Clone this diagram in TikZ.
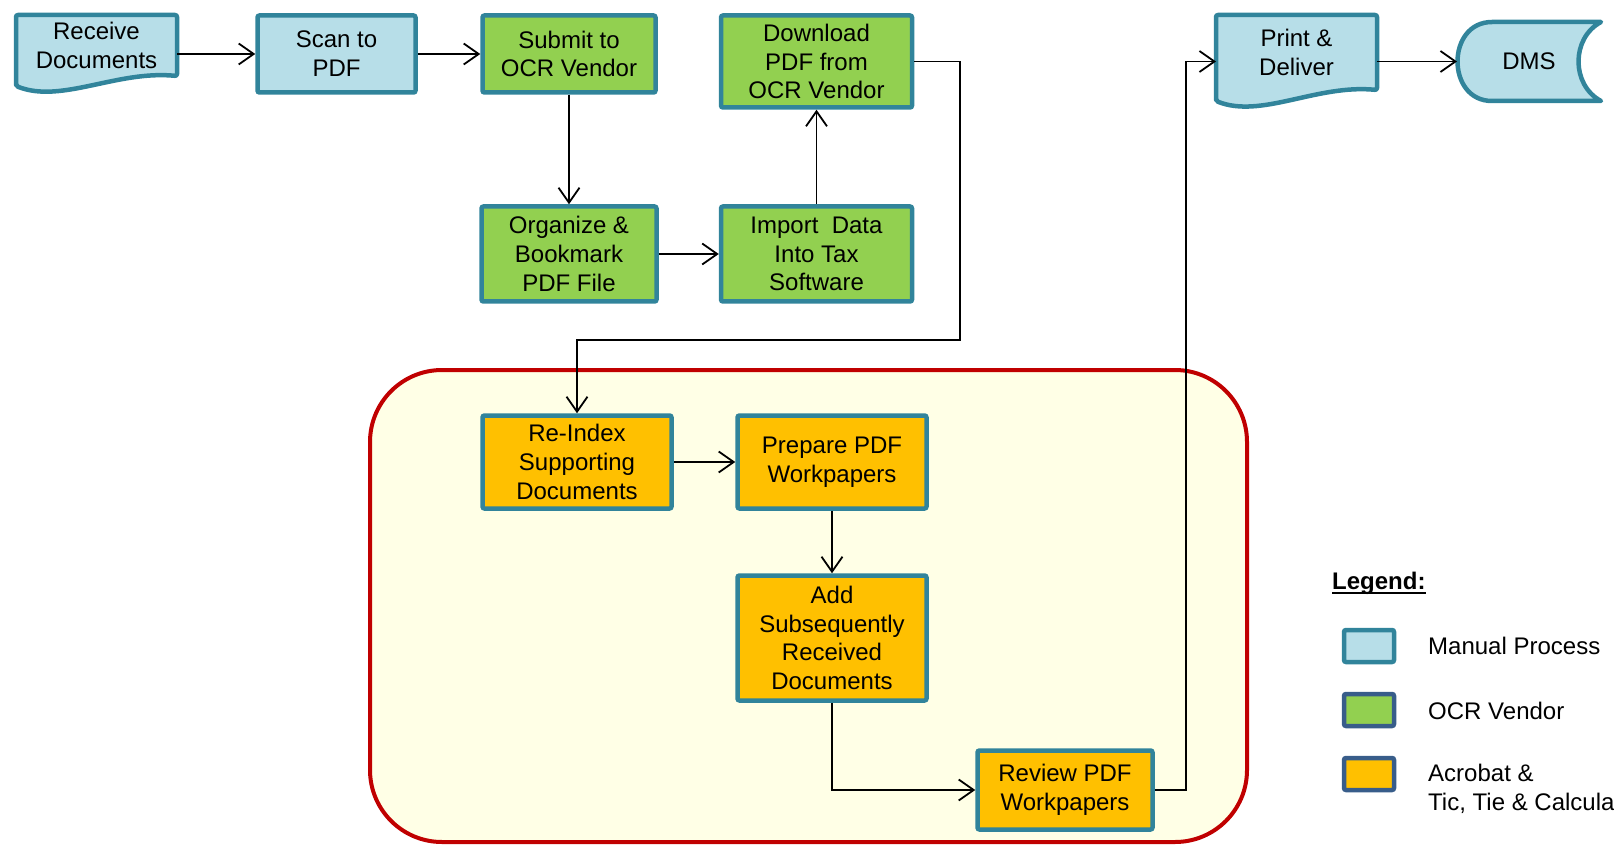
\documentclass[tikz,border=0pt]{standalone}
\usepackage{fontspec}
\setmainfont{Liberation Sans}
\usetikzlibrary{arrows.meta,calc,backgrounds}
\definecolor{manualfill}{HTML}{B7DEE8}
\definecolor{manualline}{HTML}{31849B}
\definecolor{ocrfill}{HTML}{92D050}
\definecolor{acrofill}{HTML}{FFC000}
\definecolor{legline}{HTML}{385D8A}
\definecolor{grpfill}{HTML}{FFFFE6}
\definecolor{grpline}{HTML}{C00000}
\begin{document}
\begin{tikzpicture}[x=1pt,y=-1pt,
	every node/.style={font=\fontsize{24}{28.8}\selectfont,align=center,inner sep=0pt},
	box/.style={draw=manualline,line width=4.5pt,rounded corners=2pt},
	manual/.style={box,fill=manualfill},
	ocr/.style={box,fill=ocrfill},
	acro/.style={box,fill=acrofill},
	doc/.style={line width=4.5pt,outer sep=0pt,minimum width=161pt},
	docline/.style={draw=manualline,fill=manualfill,line width=4.5pt,line join=round,line cap=round},
	arr/.style={line width=1.8pt,-{Straight Barb[length=15pt,width=21pt]}},
	legbox/.style={line width=4.5pt,rounded corners=2pt,minimum width=50pt,minimum height=32pt}]
	\useasboundingbox (0,0) rectangle (1614,850);
	\node[doc,minimum height=61pt] (recv) at (96.5,45.5) {Receive\\Documents};
	\node[manual,minimum width=158pt,minimum height=77pt] (scan) at (336.5,54) {Scan to\\PDF};
	\node[ocr,minimum width=173pt,minimum height=77pt] (submit) at (569,54) {Submit to\\OCR Vendor};
	\node[ocr,minimum width=191pt,minimum height=92pt] (down) at (816.5,61.5) {Download\\PDF from\\OCR Vendor};
	\node[ocr,minimum width=175pt,minimum height=95pt] (org) at (569,254) {Organize \&\\Bookmark\\PDF File};
	\node[ocr,minimum width=191pt,minimum height=95pt] (imp) at (816.5,254) {Import\ \ Data\\Into Tax\\Software};
	\node[acro,minimum width=189pt,minimum height=93pt] (reidx) at (577,462) {Re-Index\\Supporting\\Documents};
	\node[acro,minimum width=189pt,minimum height=93pt] (prep) at (832,462) {Prepare PDF\\Workpapers};
	\node[acro,minimum width=189pt,minimum height=125pt] (add) at (832,638) {Add\\Subsequently\\Received\\Documents};
	\node[acro,minimum width=175pt,minimum height=79pt] (rev) at (1065,790) {Review PDF\\Workpapers};
	\node[doc,minimum height=75pt] (print) at (1296.5,52.5) {Print \&\\Deliver};
	\node[outer sep=0pt,minimum width=144pt,minimum height=79pt] (dms) at (1529,61.5) {DMS};
	\begin{scope}[on background layer]
	\draw[grpline,fill=grpfill,line width=4pt,rounded corners=72pt] (370,370) rectangle (1247,842);
	\draw[docline,rounded corners=2pt] ([yshift=-10pt]recv.south west) -- (recv.north west) -- (recv.north east) -- (recv.south east) .. controls +(-60,-6) and +(45,18) .. ([yshift=-10pt]recv.south west) -- cycle;
	\draw[docline,rounded corners=2pt] ([yshift=-11pt]print.south west) -- (print.north west) -- (print.north east) -- (print.south east) .. controls +(-60,-6) and +(45,18) .. ([yshift=-11pt]print.south west) -- cycle;
	\draw[docline] (1492,22) -- (1601,22) .. controls (1571,38) and (1571,85) .. (1601,101) -- (1492,101) .. controls (1446,101) and (1446,22) .. (1492,22) -- cycle;
	\end{scope}
	\draw[arr] (recv.east |- scan.west) -- (scan.west);
	\draw[arr] (scan.east) -- (submit.west);
	\draw[arr] (submit.south) -- (org.north);
	\draw[arr] (org.east) -- (imp.west);
	\draw[arr] (imp.north) -- (down.south);
	\draw[arr] (down.east) -- ++(46,0) |- ($(reidx.north)+(0,-73)$) -- (reidx.north);
	\draw[arr] (reidx.east) -- (prep.west);
	\draw[arr] (prep.south) -- (add.north);
	\draw[arr] (add.south) |- (rev.west);
	\draw[arr] (rev.east) -- ++(31,0) |- (print.west |- dms.west);
	\draw[arr] (print.east |- dms.west) -- (dms.west);
	\node[anchor=base west,font=\fontsize{24}{28.8}\selectfont\bfseries] (leg) at (1332,589) {Legend:};
	\draw[line width=1.6pt] ([yshift=-4pt]leg.base west) -- ([yshift=-4pt]leg.base east);
	\node[legbox,draw=manualline,fill=manualfill] (legman) at (1369,646) {};
	\node[legbox,draw=legline,fill=ocrfill] (legocr) at (1369,710) {};
	\node[legbox,draw=legline,fill=acrofill] (legacro) at (1369,774) {};
	\node[anchor=west] (legmant) at (1428,646) {Manual Process};
	\node[anchor=west] (legocrt) at (1428,711) {OCR Vendor};
	\node[anchor=west,align=left] (legacrot) at (1428,789) {Acrobat \&\\Tic, Tie \& Calculate};
\end{tikzpicture}
\end{document}
